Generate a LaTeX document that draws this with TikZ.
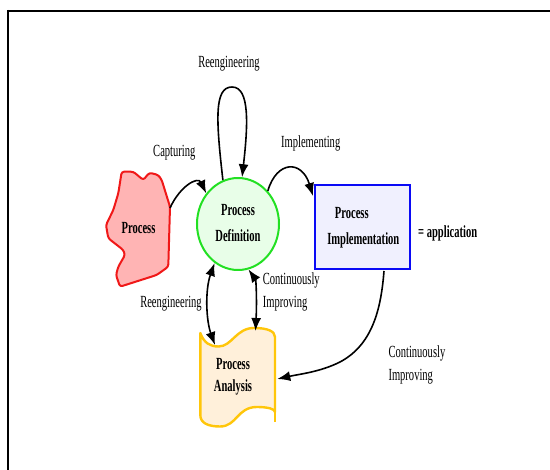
\documentclass[tikz,border=0pt]{standalone}
\usepackage{fontspec}
\setmainfont{Liberation Serif}[FakeStretch=0.62]
\usetikzlibrary{arrows.meta,shapes.geometric,calc}
\definecolor{blobfill}{HTML}{FFB4B4}
\definecolor{blobline}{HTML}{F01818}
\definecolor{deffill}{HTML}{E8FEE8}
\definecolor{defline}{HTML}{22E022}
\definecolor{implfill}{HTML}{F0F0FE}
\definecolor{implline}{HTML}{0A0AF5}
\definecolor{anafill}{HTML}{FFF0DA}
\definecolor{analine}{HTML}{FFC60A}
\begin{document}
\begin{tikzpicture}[x=1pt,y=-1pt,
  lbl/.style={font=\fontsize{17}{20}\selectfont, inner sep=0pt},
  lbltwo/.style={font=\fontsize{17}{23}\selectfont, inner sep=0pt, align=left, anchor=west},
  ttl/.style={font=\fontsize{17}{26}\selectfont\bfseries, align=center, inner sep=0pt},
  head/.style={Latex[length=13pt,width=10pt]},
  conn/.style={line width=1.6pt, -{Latex[length=13pt,width=10pt]}},
  dconn/.style={line width=1.6pt, {Latex[length=13pt,width=10pt]}-{Latex[length=13pt,width=10pt]}},
]
\useasboundingbox (0,0) rectangle (550,470);

% frame (top and left edges)
\draw[line width=1.8pt] (7,10.7) -- (550,10.7);
\draw[line width=1.8pt] (7.9,10) -- (7.9,470);

% Process (irregular blob)
\draw[draw=blobline, fill=blobfill, line width=2pt, rounded corners=2.5pt, line join=round]
  (121.7,171.7) -- (133.3,171.7) -- (143.3,180) -- (149.3,172.7) -- (158.3,175)
  -- (161.7,180) -- (170,206.7) -- (168.3,266.7) -- (156.7,275) -- (120,286.7)
  -- (116,275) -- (118.3,266.7) -- (125,255) -- (123.3,250) -- (108.3,238.3)
  -- (106,225) -- (113.3,210) -- (118.3,193.3) -- cycle;
\node[ttl] (proc) at (138.5,228) {Process};
\coordinate (procR) at (170,208);

% Process Definition
\node[ellipse, draw=defline, fill=deffill, line width=2pt, minimum width=82pt,
      minimum height=92pt, inner sep=0pt] (def) at (238,224) {};
\node[ttl] (deftext) at (238,223) {Process\\Definition};

% Process Implementation
\node[rectangle, draw=implline, fill=implfill, line width=2pt, minimum width=95pt,
      minimum height=84pt, inner sep=0pt] (impl) at (362.5,227) {};
\node[ttl] (impltext) at (363.3,227.5) {Process\hspace*{23pt}\\Implementation};
\node[ttl, anchor=west] (app) at (418,233) {= application};

% Process Analysis (tape)
\draw[draw=analine, fill=anafill, line width=2.4pt, line join=round]
  (200.3,333) .. controls (204,343) and (210,346.5) .. (218.5,346.5)
  .. controls (232,346.5) and (236,328) .. (254,328)
  .. controls (267,328) and (275,331) .. (275,337)
  -- (275,412)
  .. controls (275,409) and (268,407) .. (257,407)
  .. controls (237,407) and (237,426.5) .. (220,426.5)
  .. controls (208,426.5) and (200.3,423) .. (200.3,415)
  -- cycle;
\draw[draw=analine, line width=2.4pt] (275,411) -- (275,422);
\node[ttl, font=\fontsize{17}{22}\selectfont\bfseries] (ana) at (233,377) {Process\\Analysis};
\coordinate (anaL) at (215,345);
\coordinate (anaM) at (255.5,331);
\coordinate (anaR) at (277.3,379);

% connector ends on the boxes
\coordinate (implIn) at ($(impl.north west)+(-1,12)$);
\coordinate (implOut) at ($(impl.south west)+(70,1)$);

% connectors
\draw[conn] (procR) .. controls (180,186) and (198,176) .. (def.136);
\draw[conn] (def.109) .. controls (216,120) and (214,87) .. (232,87)
            .. controls (250,87) and (248,125) .. (def.85);
\draw[conn] (def.48) .. controls (277,160) and (302,160) .. (implIn);
\draw[dconn] (def.-121) .. controls (205,290) and (206,320) .. (anaL);
\draw[dconn] (def.-77) .. controls (256,280) and (257,300) .. (anaM);
\draw[conn] (implOut) .. controls (381,310) and (372,345) .. (340,362)
            .. controls (320,372) and (300,374) .. (anaR);

% labels
\node[lbl] (lreeng) at (229,64) {Reengineering};
\node[lbl] (lcap) at (174.3,153) {Capturing};
\node[lbl] (limp) at (310.7,143) {Implementing};
\node[lbl] (lreeng2) at (171,304) {Reengineering};
\node[lbltwo] (lci) at (262.7,291.5) {Continuously\\Improving};
\node[lbltwo] (lci2) at (388.3,364.5) {Continuously\\Improving};
\end{tikzpicture}
\end{document}
